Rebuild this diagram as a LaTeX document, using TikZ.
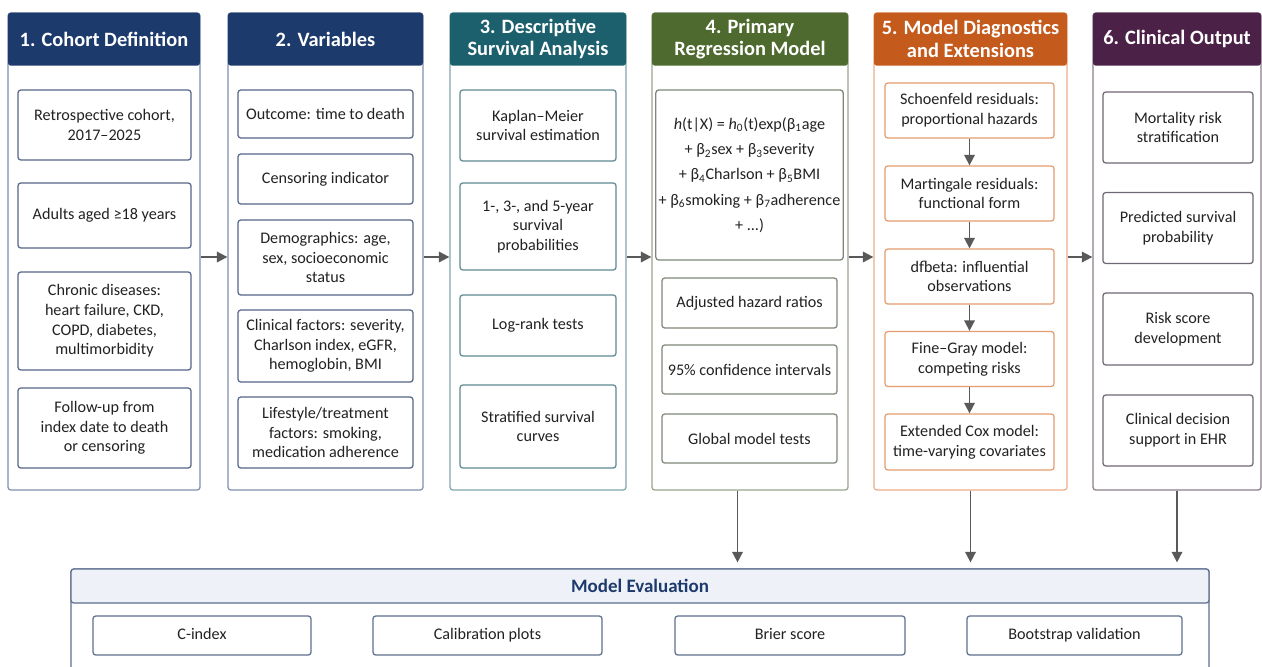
\documentclass[tikz,border=0pt]{standalone}
\usepackage{fontspec}
\setmainfont{Carlito}
\usepackage{tikz}
\usetikzlibrary{positioning, arrows.meta}
\usepackage{xcolor}

\definecolor{ink}{HTML}{222222}
\definecolor{arrowgray}{HTML}{595959}
\definecolor{navy}{HTML}{1D3A6C}
\definecolor{navyline}{HTML}{7F90AE}
\definecolor{navybox}{HTML}{56668A}
\definecolor{teal}{HTML}{1C5F6D}
\definecolor{tealline}{HTML}{7FA7AE}
\definecolor{tealbox}{HTML}{5E8A92}
\definecolor{olive}{HTML}{4E6A2F}
\definecolor{oliveline}{HTML}{9AA58F}
\definecolor{olivebox}{HTML}{7F8878}
\definecolor{orange}{HTML}{C45A1C}
\definecolor{orangeline}{HTML}{EDAE88}
\definecolor{orangebox}{HTML}{E59C70}
\definecolor{plum}{HTML}{4C2148}
\definecolor{plumline}{HTML}{8C7D8A}
\definecolor{plumbox}{HTML}{6F6874}
\definecolor{evalline}{HTML}{5E6F8F}
\definecolor{evalband}{HTML}{EEF2F8}

\newcommand{\headfont}{\fontsize{14.5}{16}\selectfont\bfseries}
\newcommand{\itemfont}{\fontsize{11.5}{14}\selectfont}

\begin{document}
\begin{tikzpicture}[
    col/.style={draw, rounded corners=2pt, line width=0.9pt, minimum height=11.925cm, inner sep=0pt},
    head/.style={rounded corners=2pt, minimum height=1.325cm, text=white, font=\headfont, align=center, anchor=north, inner sep=0pt},
    item/.style={draw, rounded corners=2pt, line width=0.9pt, align=center, font=\itemfont, text=ink, inner sep=2pt},
    evalitem/.style={item, draw=evalline, minimum height=0.975cm, text height=1.6ex, text depth=0.4ex},
    arr/.style={-{Triangle[length=7.5pt, width=7.5pt]}, line width=1.2pt, draw=arrowgray, fill=arrowgray}
]
    \useasboundingbox[fill=white] (0,0) rectangle (31.55,-16.65);

    % Column 1
    \node[col, draw=navyline, minimum width=4.8cm] (c1) at (2.6,-6.2875) {};
    \node[head, fill=navy, minimum width=4.8cm] (h1) at (c1.north) {1. Cohort Definition};
    \node[item, draw=navybox, minimum width=4.325cm, minimum height=1.75cm] (cohort) at (2.6125,-3.125) {Retrospective cohort,\\2017--2025};
    \node[item, draw=navybox, minimum width=4.325cm, minimum height=1.625cm] (adults) at (2.6125,-5.3875) {Adults aged ≥18 years};
    \node[item, draw=navybox, minimum width=4.325cm, minimum height=2.45cm] (chronic) at (2.6125,-8.025) {Chronic diseases:\\heart failure, CKD,\\COPD, diabetes,\\multimorbidity};
    \node[item, draw=navybox, minimum width=4.325cm, minimum height=2cm] (followup) at (2.6125,-10.7) {Follow-up from\\index date to death\\or censoring};

    % Column 2
    \node[col, draw=navyline, minimum width=4.875cm] (c2) at (8.1375,-6.2875) {};
    \node[head, fill=navy, minimum width=4.875cm] (h2) at (c2.north) {2. Variables};
    \node[item, draw=navybox, minimum width=4.375cm, minimum height=1.2cm] (outcome) at (8.1375,-2.85) {Outcome: time to death};
    \node[item, draw=navybox, minimum width=4.375cm, minimum height=1.25cm] (censor) at (8.1375,-4.475) {Censoring indicator};
    \node[item, draw=navybox, minimum width=4.375cm, minimum height=1.875cm] (demo) at (8.1375,-6.4375) {Demographics: age,\\sex, socioeconomic\\status};
    \node[item, draw=navybox, minimum width=4.375cm, minimum height=1.8cm] (clinical) at (8.1375,-8.65) {Clinical factors: severity,\\Charlson index, eGFR,\\hemoglobin, BMI};
    \node[item, draw=navybox, minimum width=4.375cm, minimum height=1.775cm] (lifestyle) at (8.1375,-10.8125) {Lifestyle/treatment\\factors: smoking,\\medication adherence};

    % Column 3
    \node[col, draw=tealline, minimum width=4.4cm] (c3) at (13.45,-6.2875) {};
    \node[head, fill=teal, minimum width=4.4cm] (h3) at (c3.north) {3. Descriptive\\Survival Analysis};
    \node[item, draw=tealbox, minimum width=3.9cm, minimum height=1.775cm] (km) at (13.45,-3.1375) {Kaplan--Meier\\survival estimation};
    \node[item, draw=tealbox, minimum width=3.9cm, minimum height=2.175cm] (probs) at (13.45,-5.6625) {1-, 3-, and 5-year\\survival\\probabilities};
    \node[item, draw=tealbox, minimum width=3.9cm, minimum height=1.525cm] (logrank) at (13.45,-8.1375) {Log-rank tests};
    \node[item, draw=tealbox, minimum width=3.9cm, minimum height=2.075cm] (strat) at (13.45,-10.6625) {Stratified survival\\curves};

    % Column 4
    \node[col, draw=oliveline, minimum width=4.9cm] (c4) at (18.75,-6.2875) {};
    \node[head, fill=olive, minimum width=4.9cm] (h4) at (c4.north) {4. Primary\\Regression Model};
    \node[item, draw=olivebox, minimum width=4.375cm, minimum height=4.25cm, font=\fontsize{11.5}{18}\selectfont] (cox) at (18.7375,-4.375)
        {\textit{h}(t|X) = \textit{h}\textsubscript{0}(t)exp(β\textsubscript{1}age\\
         + β\textsubscript{2}sex + β\textsubscript{3}severity\\
         + β\textsubscript{4}Charlson + β\textsubscript{5}BMI\\
         + β\textsubscript{6}smoking + β\textsubscript{7}adherence\\
         + ...)};
    \node[item, draw=olivebox, minimum width=4.375cm, minimum height=1.25cm] (hr) at (18.7375,-7.575) {Adjusted hazard ratios};
    \node[item, draw=olivebox, minimum width=4.375cm, minimum height=1.225cm] (ci) at (18.7375,-9.2375) {95\% confidence intervals};
    \node[item, draw=olivebox, minimum width=4.375cm, minimum height=1.225cm] (global) at (18.7375,-10.9625) {Global model tests};

    % Column 5
    \node[col, draw=orangeline, minimum width=4.825cm] (c5) at (24.2625,-6.2875) {};
    \node[head, fill=orange, minimum width=4.825cm] (h5) at (c5.north) {5. Model Diagnostics\\and Extensions};
    \node[item, draw=orangebox, minimum width=4.225cm, minimum height=1.375cm] (schoen) at (24.2375,-2.7625) {Schoenfeld residuals:\\proportional hazards};
    \node[item, draw=orangebox, minimum width=4.225cm, minimum height=1.375cm] (mart) at (24.2375,-4.8375) {Martingale residuals:\\functional form};
    \node[item, draw=orangebox, minimum width=4.225cm, minimum height=1.375cm] (dfbeta) at (24.2375,-6.9125) {dfbeta: influential\\observations};
    \node[item, draw=orangebox, minimum width=4.225cm, minimum height=1.375cm] (finegray) at (24.2375,-8.975) {Fine--Gray model:\\competing risks};
    \node[item, draw=orangebox, minimum width=4.225cm, minimum height=1.4cm] (extcox) at (24.2375,-11.05) {Extended Cox model:\\time-varying covariates};

    % Column 6
    \node[col, draw=plumline, minimum width=4.2cm] (c6) at (29.425,-6.2875) {};
    \node[head, fill=plum, minimum width=4.2cm] (h6) at (c6.north) {6. Clinical Output};
    \node[item, draw=plumbox, minimum width=3.75cm, minimum height=1.775cm] (mortality) at (29.45,-3.1875) {Mortality risk\\stratification};
    \node[item, draw=plumbox, minimum width=3.75cm, minimum height=1.775cm] (predicted) at (29.45,-5.7) {Predicted survival\\probability};
    \node[item, draw=plumbox, minimum width=3.75cm, minimum height=1.8cm] (riskscore) at (29.45,-8.225) {Risk score\\development};
    \node[item, draw=plumbox, minimum width=3.75cm, minimum height=1.775cm] (cds) at (29.45,-10.7625) {Clinical decision\\support in EHR};

    % Model evaluation
    \node[draw=evalline, line width=0.9pt, rounded corners=2pt, minimum width=28.45cm, minimum height=2.775cm] (eval) at (16,-15.6125) {};
    \node[draw=evalline, fill=evalband, line width=0.9pt, rounded corners=2pt, minimum width=28.45cm, minimum height=0.85cm, anchor=north,
          text=navy, font=\fontsize{13.5}{15}\selectfont\bfseries] (evalhead) at (eval.north) {Model Evaluation};
    \node[evalitem, minimum width=5.45cm] (cindex) at (5.05,-15.8875) {C-index};
    \node[evalitem, minimum width=5.725cm] (calib) at (12.1875,-15.8875) {Calibration plots};
    \node[evalitem, minimum width=5.75cm] (brier) at (19.75,-15.8875) {Brier score};
    \node[evalitem, minimum width=5.375cm] (boot) at (26.8625,-15.8875) {Bootstrap validation};

    % Flow between columns
    \draw[arr] ([yshift=-0.1375cm]c1.east) -- ([yshift=-0.1375cm]c2.west);
    \draw[arr] ([yshift=-0.1375cm]c2.east) -- ([yshift=-0.1375cm]c3.west);
    \draw[arr] ([yshift=-0.1375cm]c3.east) -- ([yshift=-0.1375cm]c4.west);
    \draw[arr] ([yshift=-0.1375cm]c4.east) -- ([yshift=-0.1375cm]c5.west);
    \draw[arr] ([yshift=-0.1375cm]c5.east) -- ([yshift=-0.1375cm]c6.west);

    % Diagnostics chain
    \draw[arr] (schoen) -- (mart);
    \draw[arr] (mart) -- (dfbeta);
    \draw[arr] (dfbeta) -- (finegray);
    \draw[arr] (finegray) -- (extcox);

    % Down to evaluation
    \draw[arr, shorten >=0.15cm] ([xshift=-0.3125cm]c4.south) -- ([xshift=-0.3125cm]c4.south |- eval.north);
    \draw[arr, shorten >=0.15cm] (c5.south) -- (c5.south |- eval.north);
    \draw[arr, shorten >=0.15cm] (c6.south) -- (c6.south |- eval.north);
\end{tikzpicture}
\end{document}
